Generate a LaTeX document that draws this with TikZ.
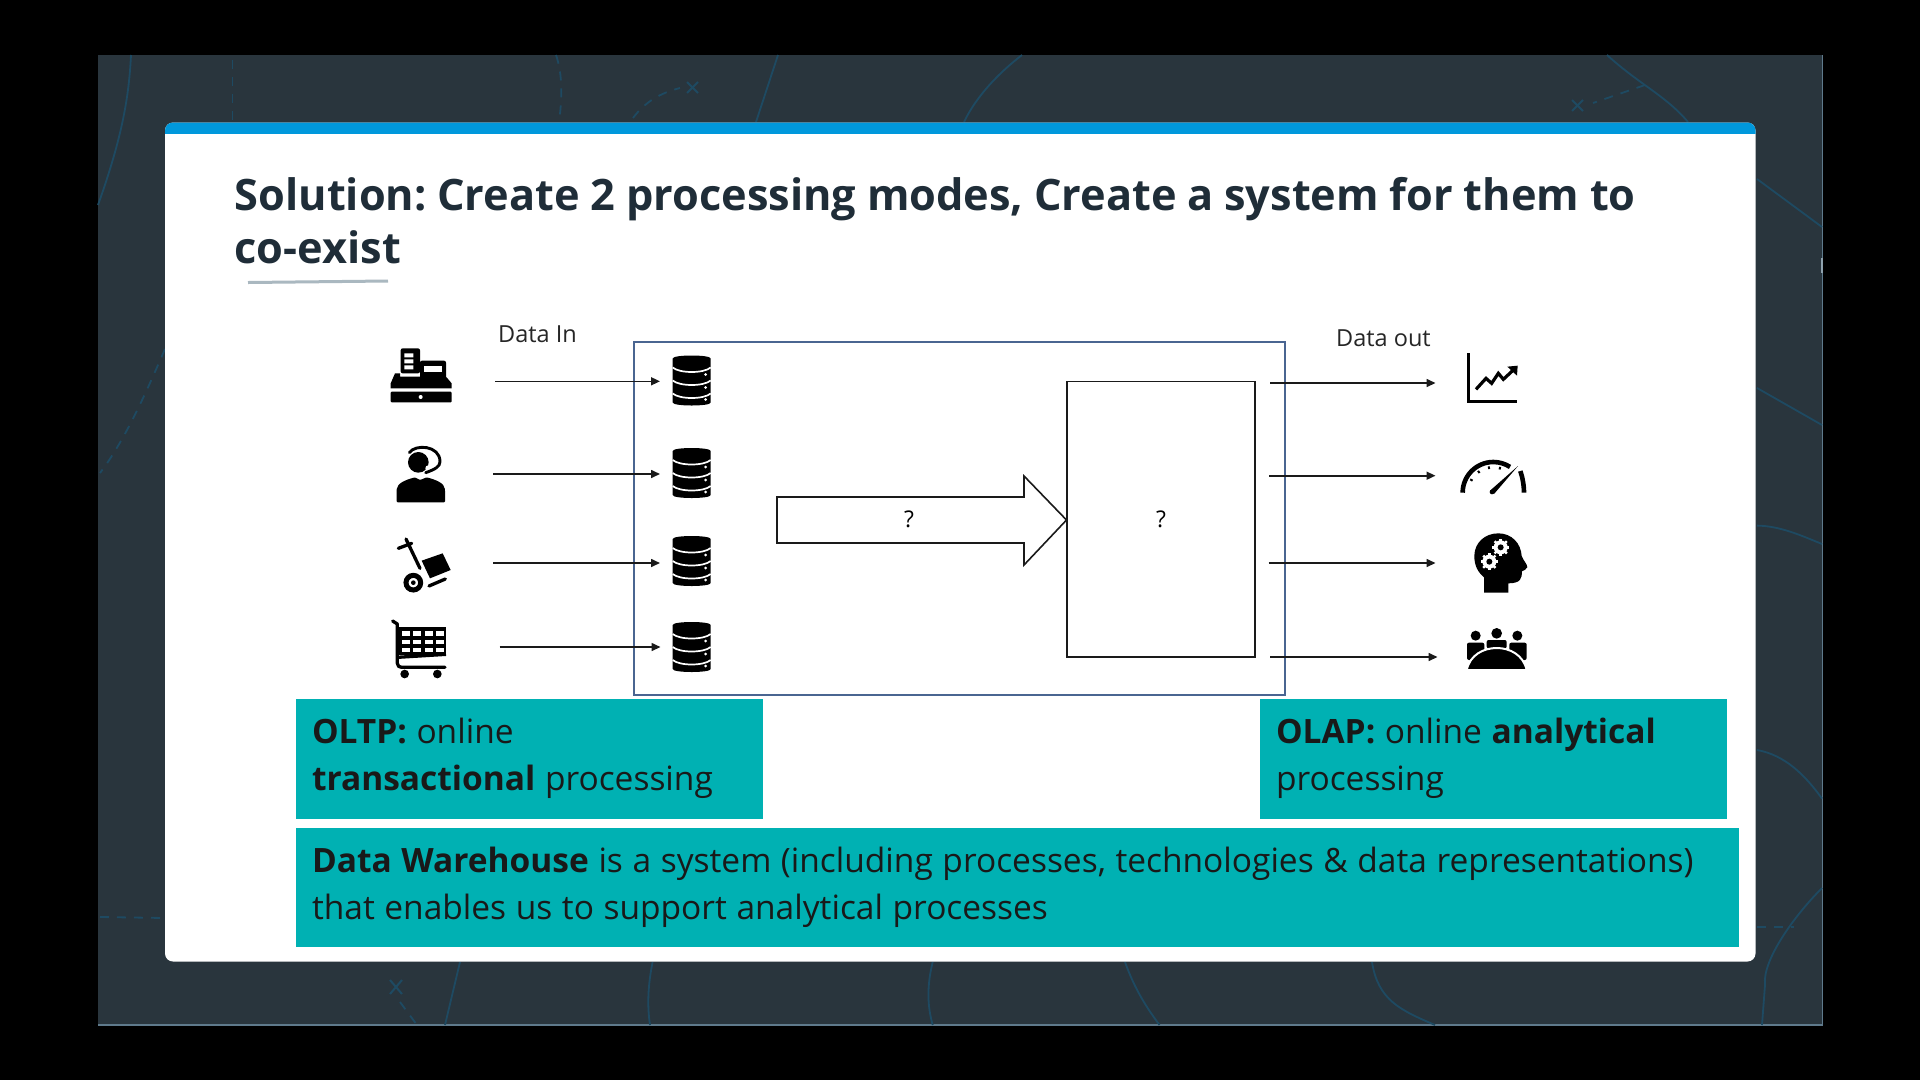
\documentclass[tikz,border=0pt]{standalone}
\usepackage{fontspec}
\setmainfont{Open Sans}
\usetikzlibrary{arrows.meta}
\definecolor{panelbg}{HTML}{29353D}
\definecolor{panelline}{HTML}{1E4A62}
\definecolor{panelrim}{HTML}{5F7A8C}
\definecolor{bandblue}{HTML}{0098DC}
\definecolor{titleink}{HTML}{1F2D38}
\definecolor{tealfill}{HTML}{00B1B3}
\definecolor{ruleblue}{HTML}{4A6591}
\definecolor{ink}{HTML}{1A1A1A}
\definecolor{rulegrey}{HTML}{AAB8C0}
\newcommand{\bodyfont}{\fontsize{33.5}{47}\selectfont\frenchspacing\setlength{\spaceskip}{9.6pt}}
\newcommand{\headfont}{\fontsize{43.3}{52}\selectfont\bfseries\frenchspacing\setlength{\spaceskip}{10.8pt}}
\tikzset{
  bgline/.style={draw=panelline,line width=1.8pt},
  bgdash/.style={bgline,dash pattern=on 9pt off 8pt},
  bgmark/.style={draw=panelline,line width=2pt},
  flow/.style={draw=ink,line width=1.6pt,-{Triangle[length=9pt,width=8pt]}},
  tealbox/.style={fill=tealfill,inner sep=0pt,outer sep=0pt,anchor=north west,align=flush left,text=black!90},
  body/.style={font=\bodyfont},
  small/.style={font=\fontsize{23.5}{26}\selectfont,text=black!85,anchor=base west,inner sep=0pt},
  headline/.style={anchor=base west,inner sep=0pt,text=titleink,font=\headfont},
  dbicon/.pic={
    \fill[black,rounded corners=5pt] (-19,-17) -- (-19,17) .. controls (-19,26) and (19,26) .. (19,17) -- (19,-17) .. controls (19,-26) and (-19,-26) .. (-19,-17) -- cycle;
    \draw[white,line width=1.7pt] (-19,-13) .. controls (-12,-7) and (12,-7) .. (19,-13);
    \draw[white,line width=1.7pt] (-19,0) .. controls (-12,6) and (12,6) .. (19,0);
    \draw[white,line width=1.7pt] (-19,13) .. controls (-12,19) and (12,19) .. (19,13);
    \fill[white] (14,-6) circle (1.5) (14,7) circle (1.5) (14,19) circle (1.5);
  }
}
\begin{document}
\begin{tikzpicture}[x=1pt,y=-1pt]
\useasboundingbox (0,0) rectangle (1920,1080);
\fill[black] (0,0) rectangle (1920,1080);
% panel
\fill[panelbg] (98,55) rectangle (1822.5,1025);
\draw[panelrim,line width=1.2pt] (98,1025) -- (1822.5,1025) -- (1822.5,55);
\fill[panelrim!70!white] (1821,258) rectangle (1823,273);
% background marks
\draw[bgline] (131,55) .. controls (129,95) and (123,135) .. (98,205);
\draw[bgdash] (232.5,60) -- (232.5,122);
\draw[bgdash] (556,55) .. controls (563,75) and (562,100) .. (559,122);
\draw[bgdash] (633,118) .. controls (645,102) and (660,93) .. (680,88);
\draw[bgmark] (687,82) -- (698,93) (698,82) -- (687,93);
\draw[bgline] (778,55) -- (756,122);
\draw[bgline] (1022,55) .. controls (1000,72) and (977,95) .. (964,122);
\draw[bgline] (1607,55) .. controls (1640,85) and (1665,95) .. (1688,122);
\draw[bgdash] (1645,85) -- (1593,103);
\draw[bgmark] (1572,100) -- (1583,111) (1583,100) -- (1572,111);
\draw[bgline] (1757,179) -- (1822,227);
\draw[bgline] (1757,388) -- (1822,425);
\draw[bgline] (1757,525.6) .. controls (1780,526) and (1800,535) .. (1822,544);
\draw[bgline] (1757,750) .. controls (1785,755) and (1805,775) .. (1822,798.6);
\draw[bgline] (1822,888) .. controls (1795,915) and (1762,960) .. (1765,985) -- (1762,1025);
\draw[bgdash] (1757,927) -- (1794,927);
\draw[bgdash] (165,349) .. controls (145,395) and (125,440) .. (100,473);
\draw[bgdash] (100,917) -- (165,918);
\draw[bgmark] (390,980) -- (402,994) (402,980) -- (390,994);
\draw[bgdash] (400,1002) -- (417,1025);
\draw[bgline] (460,962) -- (445,1025);
\draw[bgline] (652.6,962) .. controls (648,985) and (647,1005) .. (650,1025);
\draw[bgline] (932.7,962) .. controls (927,985) and (927,1005) .. (932.7,1025);
\draw[bgline] (1125,962) .. controls (1135,990) and (1147,1008) .. (1159.5,1025);
\draw[bgline] (1372,962) .. controls (1378,1000) and (1400,1010) .. (1435,1025);
% card
\fill[white,rounded corners=8pt] (165,122.5) rectangle (1755.5,961.5);
\begin{scope}
\clip (165,122.5) rectangle (1755.5,133);
\fill[bandblue,rounded corners=8pt] (165,122.5) rectangle (1755.5,160);
\end{scope}
% title
\node (title1) [headline] at (234.5,210.5) {Solution: Create 2 processing modes, Create a system for them to};
\node (title2) [headline] at (234.5,263) {co-exist};
\draw[rulegrey,line width=3pt] (248,282.5) -- (388,281);
% diagram frames
\node (dwframe) [draw=ruleblue,line width=1.6pt,anchor=north west,minimum width=651pt,minimum height=353pt,inner sep=0pt,outer sep=0pt] at (634,342) {};
\node (procbox) [draw=ink,line width=1.6pt,anchor=north west,minimum width=188pt,minimum height=275.5pt,inner sep=0pt,outer sep=0pt,font=\fontsize{23}{26}\selectfont] at (1067,381.5) {?};
\draw[ink,line width=1.6pt,fill=white] (777,497) -- (1024,497) -- (1024,476) -- (1066.5,520) -- (1024,565) -- (1024,543) -- (777,543) -- cycle;
\node (arrowq) at (909,519) [inner sep=0pt,font=\fontsize{23}{26}\selectfont] {?};
% labels
\node (datain) [small] at (498,342.5) {Data In};
\node (dataout) [small] at (1336,346) {Data out};
% coordinates for connectors
\coordinate (srcA) at (495,381.3);  \coordinate (dbA) at (660,381.3);
\coordinate (srcB) at (493,474);    \coordinate (dbB) at (660,474);
\coordinate (srcC) at (493,563);    \coordinate (dbC) at (660,563);
\coordinate (srcD) at (499.5,647);  \coordinate (dbD) at (660.5,647);
\coordinate (outA) at (1270,383);   \coordinate (useA) at (1435.5,383);
\coordinate (outB) at (1269,475.7); \coordinate (useB) at (1435.5,475.7);
\coordinate (outC) at (1268.5,563); \coordinate (useC) at (1435.5,563);
\coordinate (outD) at (1270,657);   \coordinate (useD) at (1437.5,657);
\draw[flow] (srcA) -- (dbA);
\draw[flow] (srcB) -- (dbB);
\draw[flow] (srcC) -- (dbC);
\draw[flow] (srcD) -- (dbD);
\draw[flow] (outA) -- (useA);
\draw[flow] (outB) -- (useB);
\draw[flow] (outC) -- (useC);
\draw[flow] (outD) -- (useD);
% databases
\pic at (691.7,380.5) {dbicon};
\pic at (691.7,473) {dbicon};
\pic at (691.7,561) {dbicon};
\pic at (691.7,647) {dbicon};
% left icons, written in 3x crop coordinates
\begin{scope}[shift={(360,320)},scale=1/3]
  % register
  \fill[black,rounded corners=2pt] (122,85) rectangle (180,160);
  \fill[white] (133,100) rectangle (160,112) (133,118) rectangle (160,130) (133,136) rectangle (160,148);
  \fill[black,rounded corners=2pt] (180,158) -- (180,122) -- (258,122) -- (258,175) -- (180,175) -- cycle;
  \fill[white] (192,137) rectangle (245,155);
  \fill[black] (92,190) -- (105,160) -- (120,160) -- (120,170) -- (258,170) -- (275,190) -- (275,205) -- (92,205) -- cycle;
  \fill[black,rounded corners=1pt] (92,215) rectangle (275,247);
  \fill[white] (182,231) circle (6);
  % agent
  \fill[black] (175,427) circle (31);
  \fill[white] (205,445) circle (9);
  \draw[black,line width=2.9pt,line cap=round] (148,398) .. controls (165,372) and (240,375) .. (240,425) .. controls (240,440) and (225,448) .. (197,458);
  \fill[black,rounded corners=1pt] (110,547) -- (110,510) .. controls (112,490) and (135,480) .. (165,472) -- (180,480) -- (200,472) .. controls (230,480) and (253,490) .. (255,510) -- (255,547) -- cycle;
  % trolley
  \draw[black,line width=3.3pt,line cap=round] (115,685) -- (155,670);
  \draw[black,line width=3.3pt,line cap=round] (138,657) -- (180,745);
  \fill[black] (185,722) -- (248,700) -- (272,750) -- (210,775) -- cycle;
  \draw[black,line width=3.3pt,line cap=round] (207,798) -- (256,777);
  \draw[black,line width=5pt] (160,788) circle (22);
  \fill[black] (160,788) circle (7);
  % cart
  \fill[black] (118,922) rectangle (258,1005);
  \foreach \cx in {126,160,194,228}{\foreach \cy in {934,960,984}{\fill[white] (\cx,\cy) rectangle +(24,13);}}
  \draw[black,line width=3.3pt,line cap=round,line join=round] (98,903) -- (112,912) -- (112,1030) .. controls (112,1038) and (118,1042) .. (125,1042) -- (255,1042);
  \draw[black,line width=3.3pt] (112,1012) -- (258,1003);
  \fill[black] (134,1062) circle (13) (232,1062) circle (13);
\end{scope}
% right icons, written in 3x crop coordinates
\begin{scope}[shift={(1240,320)},scale=1/3]
  % chart
  \draw[black,line width=3.4pt] (686,100) -- (686,245) -- (831,245);
  \draw[black,line width=3.2pt,line join=miter] (708,208) -- (738,175) -- (755,190) -- (775,160) -- (790,178) -- (820,150);
  \fill[black] (802,140) -- (833,137) -- (831,167) -- cycle;
  % gauge
  \draw[black,line width=4.6pt] (668,518) arc[start angle=180,end angle=303,radius=92];
  \draw[black,line width=4.6pt] (841,453) .. controls (847,470) and (852,495) .. (852,518);
  \foreach \ga in {150,125,100,75}{\draw[black,line width=2pt] ({760+80*cos(\ga)},{518-80*sin(\ga)}) -- ({760+72*cos(\ga)},{518-72*sin(\ga)});}
  \fill[black] (750,512) -- (834,438) -- (762,522) -- cycle;
  \fill[black] (756,516) circle (7);
  % head
  \fill[black] (732,818) -- (732,772) .. controls (712,755) and (703,735) .. (703,708) .. controls (703,668) and (735,640) .. (775,640) .. controls (815,640) and (843,670) .. (845,708) .. controls (850,722) and (862,732) .. (862,742) .. controls (860,750) and (850,750) .. (846,754) .. controls (846,775) and (842,790) .. (805,790) -- (805,818) -- cycle;
  \fill[white] (782,682) circle (21) (748,725) circle (21);
  \foreach \ga in {0,45,...,315}{
    \draw[white,line width=2.4pt] ({782+18*cos(\ga)},{682+18*sin(\ga)}) -- ({782+26*cos(\ga)},{682+26*sin(\ga)});
    \draw[white,line width=2.4pt] ({748+18*cos(\ga)},{725+18*sin(\ga)}) -- ({748+26*cos(\ga)},{725+26*sin(\ga)});
  }
  \fill[black] (782,682) circle (9) (748,725) circle (9);
  % people
  \fill[black] (707,947) circle (15) (770,940) circle (16) (832,947) circle (15);
  \fill[black,rounded corners=2pt] (681,1020) rectangle (733,968);
  \fill[black,rounded corners=2pt] (808,1020) rectangle (860,968);
  \fill[black,rounded corners=2pt] (740,985) rectangle (800,960);
  \fill[black,draw=white,line width=2pt] (680,1050) .. controls (690,1005) and (730,984) .. (770,984) .. controls (810,984) and (850,1005) .. (860,1050) -- cycle;
\end{scope}
% text boxes
\node (oltp) [tealbox,body,minimum width=467pt,minimum height=119.5pt,text width=435pt] at (296,699) {\textbf{OLTP:} online\\\textbf{transactional} processing};
\node (olap) [tealbox,body,minimum width=467pt,minimum height=119.5pt,text width=435pt] at (1260,699) {\textbf{OLAP:} online \textbf{analytical}\\processing};
\node (dwbox) [tealbox,body,minimum width=1443pt,minimum height=119pt,text width=1411pt] at (296,828) {\textbf{Data Warehouse} is a system (including processes, technologies \& data representations)\\that enables us to support analytical processes};
\end{tikzpicture}
\end{document}
